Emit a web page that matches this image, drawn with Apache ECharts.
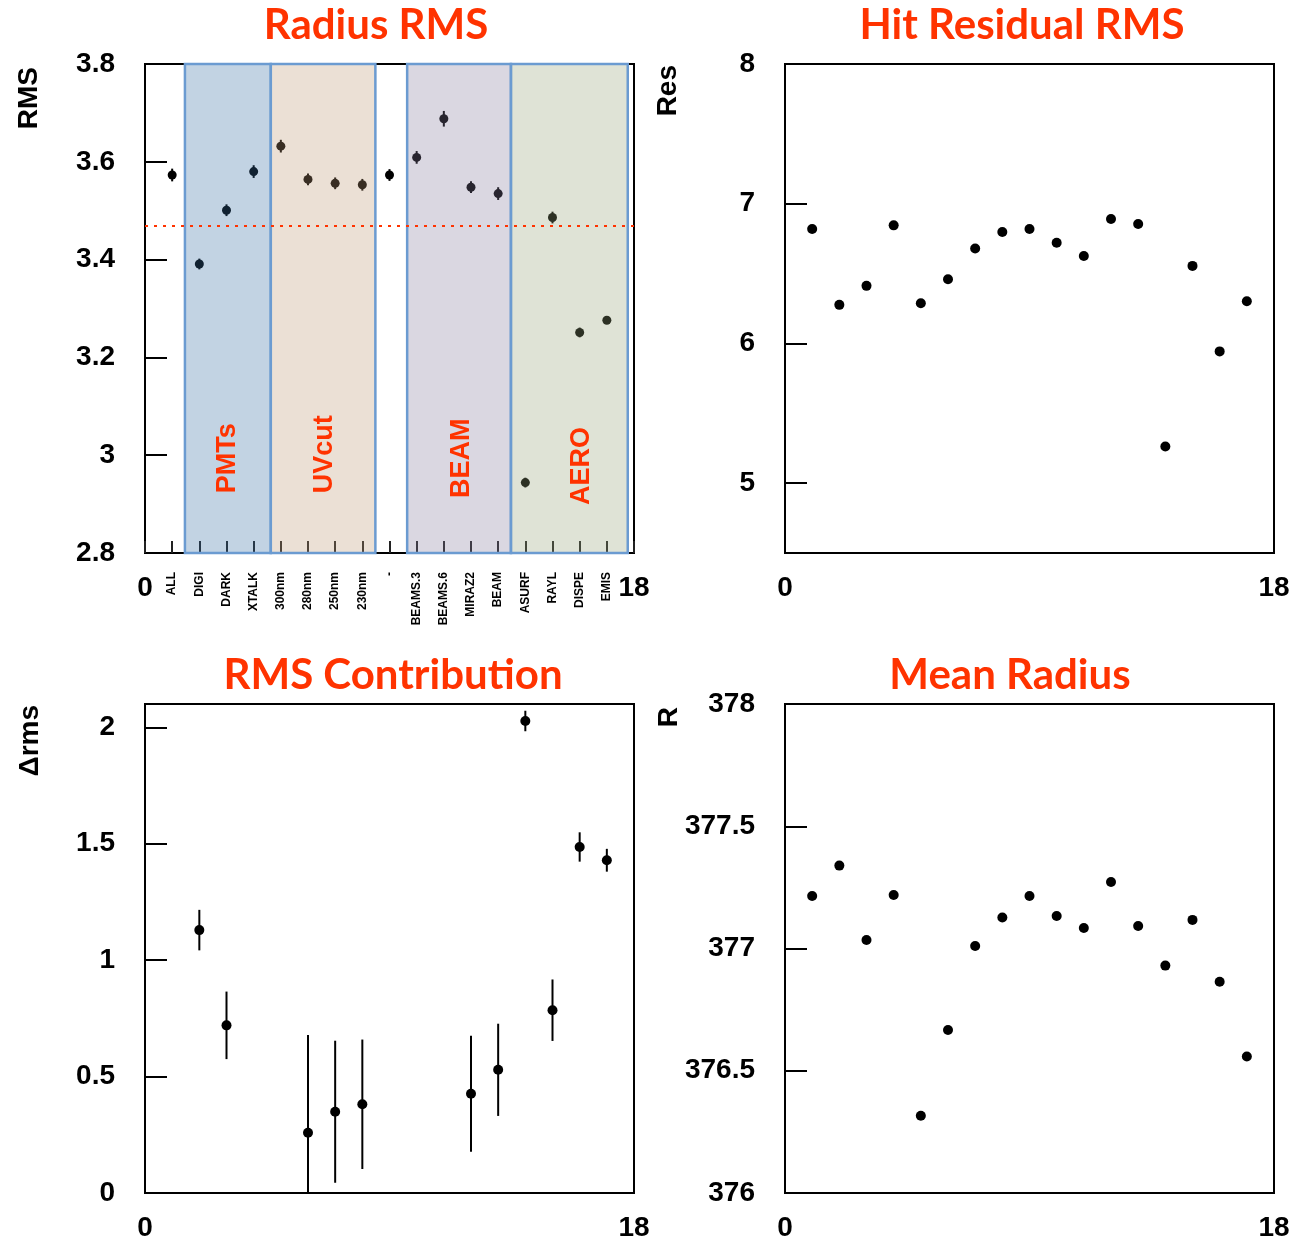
<!DOCTYPE html>
<html>
<head>
<meta charset="utf-8">
<script src="https://cdn.jsdelivr.net/npm/echarts@6.0.0/dist/echarts.min.js"></script>
<style>
  html, body { margin: 0; padding: 0; background: #fff; }
  #chart { width: 1293px; height: 1242px; }
</style>
</head>
<body>
<div id="chart"></div>
<script>
// x positions and labels of the 17 configurations
const positions = [1, 2, 3, 4, 5, 6, 7, 8, 9, 10, 11, 12, 13, 14, 15, 16, 17];
const names = ['ALL', 'DIGI', 'DARK', 'XTALK', '300nm', '280nm', '250nm', '230nm', '-',
  'BEAMS.3', 'BEAMS.6', 'MIRAZ2', 'BEAM', 'ASURF', 'RAYL', 'DISPE', 'EMIS'];

// Radius RMS (top left)
const rmsVal = [3.573, 3.391, 3.501, 3.580, 3.632, 3.564, 3.556, 3.553, 3.573,
  3.609, 3.688, 3.548, 3.535, 2.944, 3.486, 3.251, 3.276];
const rmsErr = [0.013, 0.011, 0.012, 0.013, 0.013, 0.012, 0.012, 0.012, 0.012,
  0.013, 0.016, 0.012, 0.013, 0.010, 0.012, 0.010, 0.006];
const rmsRef = 3.471;

// groups shaded on the top left panel
const groupNames = ['PMTs', 'UVcut', 'BEAM', 'AERO'];
const groupStart = [1.47, 4.63, 9.65, 13.47];
const groupEnd = [4.63, 8.48, 13.47, 17.77];
const groupLabelX = [3.05, 6.62, 11.66, 16.07];
const groupLabelY = [2.994, 3.002, 2.994, 2.978];

// Hit residual RMS (top right)
const resVal = [6.819, 6.276, 6.412, 6.845, 6.288, 6.459, 6.679, 6.798, 6.819,
  6.721, 6.626, 6.890, 6.855, 5.262, 6.555, 5.943, 6.302];
const resTicks = [5, 6, 7, 8];

// RMS contribution (bottom left)
const dRms = [null, 1.129, 0.720, null, null, 0.259, 0.349, 0.381, null,
  null, null, 0.426, 0.529, 2.027, 0.785, 1.486, 1.429];
const dRmsErr = [null, 0.087, 0.145, null, null, 0.419, 0.305, 0.278, null,
  null, null, 0.249, 0.198, 0.044, 0.132, 0.063, 0.049];
const dRmsTicks = [0, 0.5, 1, 1.5, 2];

// Mean radius (bottom right)
const meanR = [377.215, 377.339, 377.035, 377.219, 376.316, 376.667, 377.010, 377.127, 377.215,
  377.133, 377.084, 377.272, 377.092, 376.930, 377.117, 376.864, 376.558];

const RED = '#ff3300';
const AXFONT = '"Liberation Sans", Arial, sans-serif';
const groupFill = ['rgba(52,108,162,0.3)', 'rgba(188,152,115,0.3)', 'rgba(132,122,155,0.3)', 'rgba(148,162,118,0.3)'];

const chart = echarts.init(document.getElementById('chart'));

function errBar(r) {
  return function (params, api) {
    const x = api.value(0), y = api.value(1), e = api.value(2);
    const c = api.coord([x, y]);
    const top = api.coord([x, y + e]);
    const bot = api.coord([x, y - e]);
    const cs = params.coordSys;
    const y1 = Math.max(top[1], cs.y);
    const y2 = Math.min(bot[1], cs.y + cs.height);
    return {
      type: 'group',
      children: [
        { type: 'line', shape: { x1: c[0], y1: y1, x2: c[0], y2: y2 }, style: { stroke: '#000', lineWidth: 2 } },
        { type: 'circle', shape: { cx: c[0], cy: c[1], r: r }, style: { fill: '#000' } }
      ]
    };
  };
}

function grid(left, top) {
  return { left: left, top: top, width: 489, height: 489, show: true, borderColor: '#000', borderWidth: 2 };
}

function endsAxis(gridIndex) {
  return {
    type: 'value', gridIndex: gridIndex, position: 'bottom', min: 0, max: 18, interval: 18,
    axisLine: { show: false }, axisTick: { show: false }, splitLine: { show: false },
    axisLabel: { fontSize: 28, fontWeight: 'bold', fontFamily: AXFONT, color: '#000', margin: 21 }
  };
}

function yAxis(gridIndex, min, max, interval, ticks) {
  const ax = {
    type: 'value', gridIndex: gridIndex, min: min, max: max, interval: interval,
    axisLine: { show: false }, splitLine: { show: false },
    axisTick: { show: true, inside: true, length: 22, lineStyle: { color: '#000', width: 2 } },
    axisLabel: { fontSize: 28, fontWeight: 'bold', fontFamily: AXFONT, color: '#000', margin: 30 }
  };
  if (ticks) {
    ax.axisTick.customValues = ticks;
    ax.axisLabel.customValues = ticks;
  }
  return ax;
}

function txt(text, x, y, font, color, rotated) {
  return {
    type: 'text', x: x, y: y, rotation: rotated ? Math.PI / 2 : 0, z: 100,
    style: {
      text: text, font: font, fill: color,
      align: rotated ? 'right' : 'center', verticalAlign: 'middle',
      textAlign: rotated ? 'right' : 'center', textVerticalAlign: 'middle'
    }
  };
}

const titleFont = 'bold 42px Lato, "Open Sans", sans-serif';
const nameFont = 'bold 28px ' + AXFONT;

chart.setOption({
  animation: false,
  backgroundColor: '#fff',
  grid: [grid(145, 64), grid(785, 64), grid(145, 704), grid(785, 704)],
  xAxis: [
    endsAxis(0),
    {
      type: 'value', gridIndex: 0, position: 'bottom', min: 0, max: 18, interval: 1,
      axisLine: { show: false }, splitLine: { show: false },
      axisTick: { show: true, inside: true, length: 12, lineStyle: { color: '#222', width: 2 } },
      axisLabel: {
        rotate: 90, fontSize: 12, fontWeight: 'bold', fontFamily: AXFONT, color: '#000', margin: 19,
        formatter: function (v) { return v >= 1 && v <= 17 ? names[v - 1] : ''; }
      }
    },
    endsAxis(1),
    endsAxis(2),
    endsAxis(3)
  ],
  yAxis: [
    yAxis(0, 2.8, 3.8, 0.2),
    yAxis(1, 4.5, 8, 0.5, resTicks),
    yAxis(2, 0, 2.1, 0.5, dRmsTicks),
    yAxis(3, 376, 378, 0.5)
  ],
  series: [
    {
      type: 'custom', xAxisIndex: 0, yAxisIndex: 0, z: 2,
      renderItem: errBar(4.5),
      data: positions.map((x, i) => [x, rmsVal[i], rmsErr[i]])
    },
    {
      type: 'scatter', xAxisIndex: 0, yAxisIndex: 0, data: [], silent: true,
      markArea: {
        z: 3, silent: true,
        data: groupNames.map((n, i) => [
          { xAxis: groupStart[i], itemStyle: { color: groupFill[i], borderColor: '#6b9bd1', borderWidth: 2.5 } },
          { xAxis: groupEnd[i] }
        ])
      },
      markLine: {
        z: 5, silent: true, symbol: 'none',
        label: { show: false },
        lineStyle: { color: RED, width: 2, type: [3, 6] },
        data: [{ yAxis: rmsRef }]
      },
      markPoint: {
        z: 6, silent: true, symbol: 'rect', symbolSize: 1,
        itemStyle: { color: 'rgba(0,0,0,0)' },
        label: {
          show: true, position: 'inside', rotate: 90, formatter: '{b}',
          fontSize: 27, fontWeight: 'bold', fontFamily: AXFONT, color: RED
        },
        data: groupNames.map((n, i) => ({ name: n, coord: [groupLabelX[i], groupLabelY[i]] }))
      }
    },
    {
      type: 'scatter', xAxisIndex: 2, yAxisIndex: 1, symbolSize: 10,
      itemStyle: { color: '#000', opacity: 1 },
      data: positions.map((x, i) => [x, resVal[i]])
    },
    {
      type: 'custom', xAxisIndex: 3, yAxisIndex: 2,
      renderItem: errBar(5),
      data: positions.map((x, i) => [x, dRms[i], dRmsErr[i]]).filter(d => d[1] !== null)
    },
    {
      type: 'scatter', xAxisIndex: 4, yAxisIndex: 3, symbolSize: 10,
      itemStyle: { color: '#000', opacity: 1 },
      data: positions.map((x, i) => [x, meanR[i]])
    }
  ],
  graphic: [
    txt('Radius RMS', 376, 25, titleFont, RED),
    txt('Hit Residual RMS', 1022, 25, titleFont, RED),
    txt('RMS Contribution', 393, 675, titleFont, RED),
    txt('Mean Radius', 1010, 675, titleFont, RED),
    txt('RMS', 29, 67, nameFont, '#000', true),
    txt('Res', 668, 65, nameFont, '#000', true),
    txt('Δrms', 30, 705, nameFont, '#000', true),
    txt('R', 669, 707, nameFont, '#000', true)
  ]
});
</script>
</body>
</html>
